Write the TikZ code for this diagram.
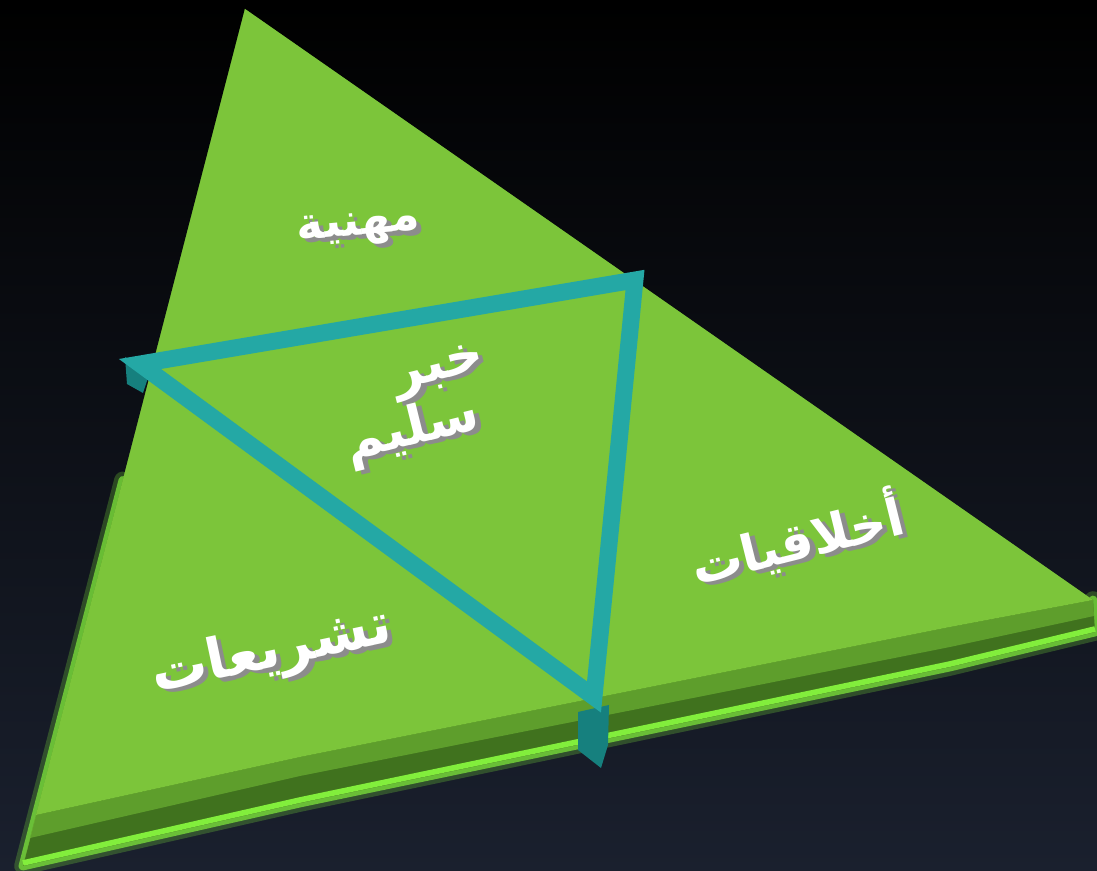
\documentclass[tikz,border=0pt]{standalone}
\usepackage{fontspec}
\newfontfamily\arabicfont[Script=Arabic]{DejaVu Sans}
\TeXXeTstate=1
\usetikzlibrary{calc}
\definecolor{leaf}{RGB}{124,197,58}
\definecolor{leafside}{RGB}{114,188,52}
\definecolor{leafmid}{RGB}{94,158,44}
\definecolor{leafdark}{RGB}{64,114,30}
\definecolor{glow}{RGB}{130,238,60}
\definecolor{tealtop}{RGB}{36,168,165}
\definecolor{tealside}{RGB}{22,128,126}
\definecolor{navy}{RGB}{26,32,46}
\newcommand{\artxt}[1]{{\arabicfont\bfseries\beginR #1\endR}}
\newcommand{\shadowtxt}[1]{\rlap{\kern1.3pt\raisebox{-1.3pt}{\color{black!45}\artxt{#1}}}\artxt{#1}}

\begin{document}
\begin{tikzpicture}[x=0.01cm, y=-0.01cm,
    word/.style={text=white, inner sep=0pt, font=\fontsize{16}{19}\selectfont},
    frame/.style={draw=tealtop, line width=4.8pt, line join=miter}
]
    % Background
    \useasboundingbox (0,0) rectangle (1097,871);
    \clip (0,0) rectangle (1097,871);
    \shade[top color=black, middle color=black!95!navy, bottom color=navy] (0,0) rectangle (1097,871);

    % Outer triangle
    \coordinate (apex) at (245,9);
    \coordinate (t1) at (36,815);
    \coordinate (tm) at (300,757);
    \coordinate (tr) at (950,627);
    \coordinate (rtip) at (1093,600);
    \coordinate (b1) at (30,838);
    \coordinate (bm) at (300,776);
    \coordinate (br) at (950,647);
    \coordinate (b4) at (1094,616);
    \coordinate (f1) at (23,866);
    \coordinate (fm) at (300,803);
    \coordinate (fr) at (950,667);
    \coordinate (f4) at (1095,632);

    \foreach \w/\o in {5/0.25, 2.5/0.7}
        \draw[glow, line width=\w pt, opacity=\o, line join=round, line cap=round] ($(apex)!0.55!(f1)$) -- (f1) -- (fm) -- (fr) -- (f4) -- (rtip);

    \fill[leafdark] (apex) -- (f1) -- (fm) -- (fr) -- (f4) -- (rtip) -- cycle;
    \fill[leafmid] (t1) -- (tm) -- (tr) -- (rtip) -- (b4) -- (br) -- (bm) -- (b1) -- cycle;
    \fill[leafside] (apex) -- (f1) -- (b1) -- (t1) -- cycle;
    \fill[leaf] (apex) -- (t1) -- (tm) -- (tr) -- (rtip) -- cycle;
    \draw[glow, line width=1.6pt] ([yshift=0.03cm]f1) -- ([yshift=0.03cm]fm) -- ([yshift=0.03cm]fr) -- ([yshift=0.03cm]f4);

    % Inner triangle
    \coordinate (il) at (140,364);
    \coordinate (it) at (635,280);
    \coordinate (ib) at (594,697);
    \fill[tealside] (125,357) -- (127,384) -- (143,393) -- (150,372) -- cycle;
    \fill[tealside] (578,712) -- (609,705) -- (608,745) -- (601,768) -- (578,750) -- cycle;
    \draw[frame] (il) -- (it) -- (ib) -- cycle;

    % Labels
    \node[word, rotate=5, font=\fontsize{13}{15}\selectfont] (prof) at (359,231) {\shadowtxt{مهنية}};
    \node[word, rotate=14, font=\fontsize{15}{18}\selectfont] (news1) at (440,374) {\shadowtxt{خبر}};
    \node[word, rotate=14, font=\fontsize{15}{18}\selectfont] (news2) at (413,433) {\shadowtxt{سليم}};
    \node[word, rotate=14, font=\fontsize{14.5}{17}\selectfont] (ethics) at (797,541) {\shadowtxt{أخلاقيات}};
    \node[word, rotate=12] (laws) at (272,655) {\shadowtxt{تشريعات}};
\end{tikzpicture}
\end{document}
